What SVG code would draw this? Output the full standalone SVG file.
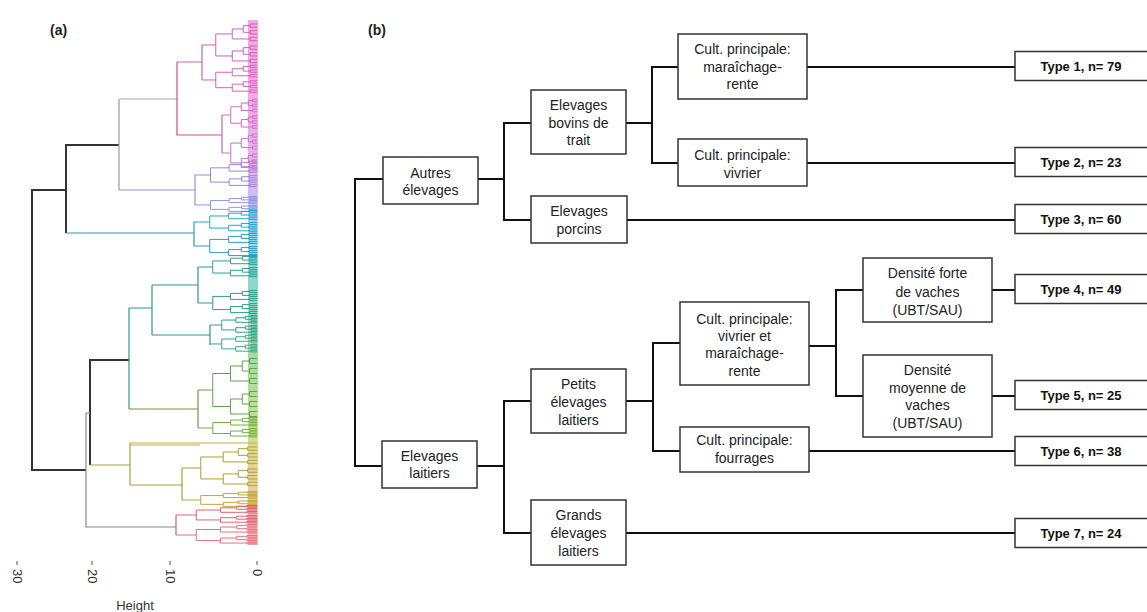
<svg xmlns="http://www.w3.org/2000/svg" xmlns:xlink="http://www.w3.org/1999/xlink" width="1147" height="612" viewBox="0 0 1147 612">
<style>
.t{font-family:"Liberation Sans",Arial,sans-serif;font-size:14px;fill:#222;text-anchor:middle}
.tb{font-family:"Liberation Sans",Arial,sans-serif;font-size:13px;font-weight:bold;fill:#111;text-anchor:middle}
.lab{font-family:"Liberation Sans",Arial,sans-serif;font-size:14px;font-weight:bold;fill:#222}
.ax{font-family:"Liberation Sans",Arial,sans-serif;font-size:13px;fill:#333}
.box{fill:#fff;stroke:#333;stroke-width:1.5}
.con{fill:none;stroke:#111;stroke-width:2}
.d{fill:none;stroke-width:1.2}
.dk{fill:none;stroke:#333;stroke-width:2}
.fan{fill:none;stroke:currentColor;stroke-width:1;vector-effect:non-scaling-stroke}
</style>
<defs>
<path id="fan" class="fan" d="M40 0.5H35V3H40M40 5.5H35V8H40M40 10.5H35V13H40M40 17H35V19.5H40M40 22H35V24.5H40M40 27H35V29.5H40M35 1.75H30V6.75H35M35 18.25H30V23.25H35M30 4.25H22V11.75H35M30 20.75H22V28.25H35M22 8H10V24.5H22M10 16.25H0"/>
<linearGradient id="band" x1="0" y1="0" x2="0" y2="1">
<stop offset="0" stop-color="#f060c8"/>
<stop offset="0.28" stop-color="#d070e0"/>
<stop offset="0.36" stop-color="#9a90f0"/>
<stop offset="0.42" stop-color="#30c8e0"/>
<stop offset="0.5" stop-color="#30b8a0"/>
<stop offset="0.66" stop-color="#60c050"/>
<stop offset="0.78" stop-color="#a8c040"/>
<stop offset="0.88" stop-color="#d8b040"/>
<stop offset="0.95" stop-color="#f08080"/>
<stop offset="1" stop-color="#f08080"/>
</linearGradient>
</defs>
<rect width="1147" height="612" fill="#fff"/>

<!-- (a) dendrogram -->
<g id="dendrogram">
<text class="lab" x="50" y="35">(a)</text>
<rect x="248" y="20" width="10" height="525" fill="url(#band)" opacity="0.55"/>
<!-- main black/gray skeleton -->
<path class="dk" d="M66 190H32V470H86"/>
<path class="dk" d="M119 145H66V233"/>
<path class="dk" d="M129 360H90V465"/>
<path class="d" stroke="#999" d="M119 99V190"/>
<path class="d" stroke="#888" d="M86 413H90M86 413V527H176"/>
<!-- pink -->
<path class="d" stroke="#c89aa8" d="M119 99H177"/>
<path class="d" stroke="#d0507a" d="M177 62V135H222"/>
<path class="d" stroke="#c06aa8" d="M177 62H202M202 45V80M222 115V153"/>
<use href="#fan" transform="translate(202,23.3) scale(1.375,1.333)" style="color:#d060b8"/>
<use href="#fan" transform="translate(202,64.8) scale(1.375,0.933)" style="color:#d860c0"/>
<use href="#fan" transform="translate(222,98.75) scale(0.875,1)" style="color:#d868c8"/>
<use href="#fan" transform="translate(222,133.5) scale(0.875,1.2)" style="color:#c870d0"/>
<!-- purple -->
<path class="d" stroke="#9a90c8" d="M119 190H195M195 175V205"/>
<use href="#fan" transform="translate(195,160.9) scale(1.55,0.867)" style="color:#9a88d8"/>
<use href="#fan" transform="translate(195,196.3) scale(1.55,0.533)" style="color:#8a98e0"/>
<!-- cyan -->
<path class="d" stroke="#2a9aa8" d="M66 233H194M194 222V246"/>
<use href="#fan" transform="translate(194,210.1) scale(1.575,0.733)" style="color:#20a8c8"/>
<use href="#fan" transform="translate(194,233) scale(1.575,0.8)" style="color:#3098c8"/>
<!-- teal -->
<path class="d" stroke="#2a9a88" d="M129 308V409M129 308H152M152 285V335M152 285H198M198 267V303M152 335H210M210 325V345"/>
<use href="#fan" transform="translate(198,255.1) scale(1.475,0.733)" style="color:#28a090"/>
<use href="#fan" transform="translate(198,290) scale(1.475,0.8)" style="color:#28a088"/>
<use href="#fan" transform="translate(210,315.25) scale(1.175,0.6)" style="color:#30a090"/>
<use href="#fan" transform="translate(210,334.2) scale(1.175,0.6)" style="color:#38a888"/>
<!-- green -->
<path class="d" stroke="#6a9a40" d="M129 409H198M198 390V428"/>
<use href="#fan" transform="translate(198,357.5) scale(1.475,2)" style="color:#5aa848"/>
<use href="#fan" transform="translate(198,417.2) scale(1.475,0.667)" style="color:#70b040"/>
<!-- yellow -->
<path class="d" stroke="#a8a040" d="M90 465H130M130 443V485H182M182 468V500"/>
<path class="d" stroke="#c0b040" d="M130 443H257M130 445H200"/>
<use href="#fan" transform="translate(182,446.3) scale(1.875,1.333)" style="color:#b0a030"/>
<use href="#fan" transform="translate(182,491.3) scale(1.875,0.533)" style="color:#c0a838"/>
<!-- red -->
<path class="d" stroke="#d06070" d="M176 515V535"/>
<use href="#fan" transform="translate(176,505.25) scale(2.025,0.6)" style="color:#e06070"/>
<use href="#fan" transform="translate(176,524.2) scale(2.025,0.667)" style="color:#e87080"/>
<!-- axis -->
<path stroke="#555" stroke-width="1" d="M17 561V565M92 561V565M170 561V565M257 561V565"/>
<text class="ax" transform="translate(17,569) rotate(90)" dominant-baseline="central">30</text>
<text class="ax" transform="translate(92,569) rotate(90)" dominant-baseline="central">20</text>
<text class="ax" transform="translate(170,569) rotate(90)" dominant-baseline="central">10</text>
<text class="ax" transform="translate(257,569) rotate(90)" dominant-baseline="central">0</text>
<text class="ax" x="135" y="610" text-anchor="middle" font-size="14">Height</text>
</g>

<!-- (b) tree -->
<text class="lab" x="368" y="35">(b)</text>
<g id="connectors">
<path class="con" d="M383 179H355V466H382"/>
<path class="con" d="M478 179H504M531 123H504V220H531"/>
<path class="con" d="M626 123H652M678 67H652V163H678"/>
<path class="con" d="M807 67H1015M807 163H1015M627 220H1015"/>
<path class="con" d="M477 466H504M531 401H504V533H531"/>
<path class="con" d="M626 533H1015"/>
<path class="con" d="M626 401H653M680 343H653V451H680"/>
<path class="con" d="M809 346H836M863 290H836V396H863"/>
<path class="con" d="M992 290H1015M992 396H1015M809 451H1015"/>
</g>

<g id="n-autres"><rect class="box" x="383" y="157" width="95" height="47"/><text class="t"><tspan x="430.5" y="178">Autres</tspan><tspan x="430.5" y="195">élevages</tspan></text></g>
<g id="n-bovins"><rect class="box" x="531" y="90" width="95" height="64"/><text class="t"><tspan x="578.5" y="110">Elevages</tspan><tspan x="578.5" y="127.5">bovins de</tspan><tspan x="578.5" y="145">trait</tspan></text></g>
<g id="n-porcins"><rect class="box" x="531" y="196" width="96" height="47"/><text class="t"><tspan x="579" y="216">Elevages</tspan><tspan x="579" y="234">porcins</tspan></text></g>
<g id="n-cult-mr"><rect class="box" x="678" y="34" width="129" height="65"/><text class="t"><tspan x="742.5" y="54">Cult. principale:</tspan><tspan x="742.5" y="72">maraîchage-</tspan><tspan x="742.5" y="89">rente</tspan></text></g>
<g id="n-cult-v"><rect class="box" x="678" y="139" width="129" height="47"/><text class="t"><tspan x="742.5" y="160">Cult. principale:</tspan><tspan x="742.5" y="178">vivrier</tspan></text></g>
<g id="n-laitiers"><rect class="box" x="382" y="441" width="95" height="47"/><text class="t"><tspan x="429.5" y="461">Elevages</tspan><tspan x="429.5" y="478">laitiers</tspan></text></g>
<g id="n-petits"><rect class="box" x="531" y="369" width="95" height="64"/><text class="t"><tspan x="578.5" y="389">Petits</tspan><tspan x="578.5" y="407">élevages</tspan><tspan x="578.5" y="425">laitiers</tspan></text></g>
<g id="n-grands"><rect class="box" x="531" y="500" width="95" height="65"/><text class="t"><tspan x="578.5" y="520">Grands</tspan><tspan x="578.5" y="538">élevages</tspan><tspan x="578.5" y="556">laitiers</tspan></text></g>
<g id="n-cult-vmr"><rect class="box" x="680" y="302" width="129" height="83"/><text class="t"><tspan x="744.5" y="324">Cult. principale:</tspan><tspan x="744.5" y="341">vivrier et</tspan><tspan x="744.5" y="358">maraîchage-</tspan><tspan x="744.5" y="376">rente</tspan></text></g>
<g id="n-cult-f"><rect class="box" x="680" y="427" width="129" height="45"/><text class="t"><tspan x="744.5" y="445">Cult. principale:</tspan><tspan x="744.5" y="463">fourrages</tspan></text></g>
<g id="n-dens-f"><rect class="box" x="863" y="258" width="129" height="64"/><text class="t"><tspan x="927.5" y="278">Densité forte</tspan><tspan x="927.5" y="297">de vaches</tspan><tspan x="927.5" y="315">(UBT/SAU)</tspan></text></g>
<g id="n-dens-m"><rect class="box" x="863" y="355" width="129" height="82"/><text class="t"><tspan x="927.5" y="375">Densité</tspan><tspan x="927.5" y="393">moyenne de</tspan><tspan x="927.5" y="410">vaches</tspan><tspan x="927.5" y="428">(UBT/SAU)</tspan></text></g>

<g id="type1"><rect class="box" x="1015" y="51.5" width="140" height="29"/><text class="tb" x="1081" y="70.5">Type 1, n= 79</text></g>
<g id="type2"><rect class="box" x="1015" y="147.5" width="140" height="29"/><text class="tb" x="1081" y="166.5">Type 2, n= 23</text></g>
<g id="type3"><rect class="box" x="1015" y="204.5" width="140" height="29"/><text class="tb" x="1081" y="223.5">Type 3, n= 60</text></g>
<g id="type4"><rect class="box" x="1015" y="274.5" width="140" height="29"/><text class="tb" x="1081" y="293.5">Type 4, n= 49</text></g>
<g id="type5"><rect class="box" x="1015" y="380.5" width="140" height="29"/><text class="tb" x="1081" y="399.5">Type 5, n= 25</text></g>
<g id="type6"><rect class="box" x="1015" y="436.5" width="140" height="29"/><text class="tb" x="1081" y="455.5">Type 6, n= 38</text></g>
<g id="type7"><rect class="box" x="1015" y="518.5" width="140" height="29"/><text class="tb" x="1081" y="537.5">Type 7, n= 24</text></g>
</svg>
